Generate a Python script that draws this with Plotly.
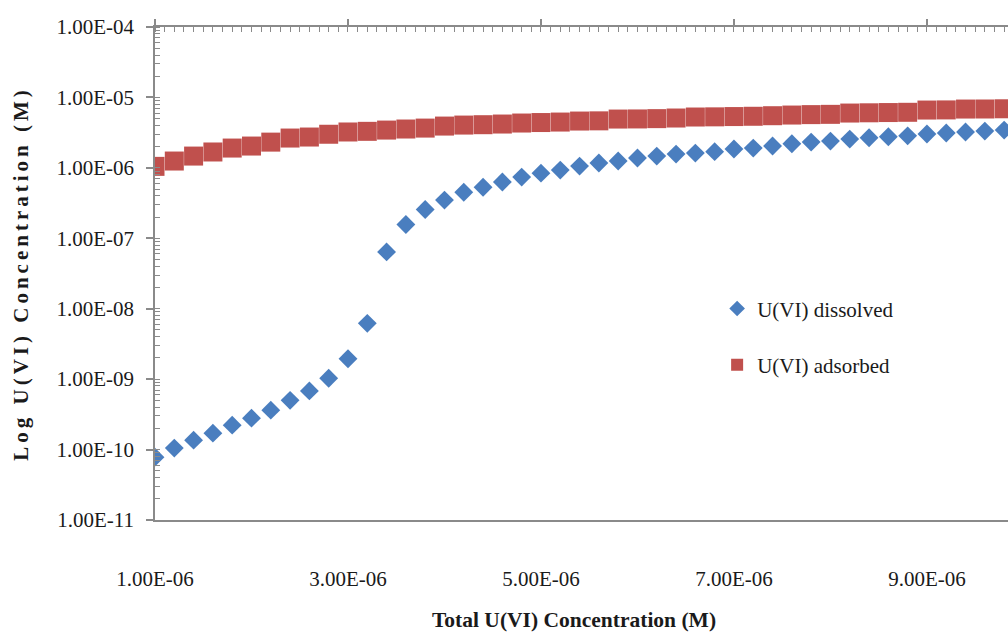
import plotly.graph_objects as go

# Total U(VI) concentration (M), 0.2 µM steps
total_u = [round(1.0e-6 + 0.2e-6 * i, 8) for i in range(45)]

# Dissolved U(VI) (M)
dissolved = [
    7.8e-11, 1.05e-10, 1.36e-10, 1.71e-10, 2.22e-10, 2.79e-10, 3.63e-10, 5.0e-10,
    6.8e-10, 1.03e-9, 1.95e-9, 6.2e-9, 6.4e-8, 1.57e-7, 2.56e-7, 3.49e-7,
    4.5e-7, 5.3e-7, 6.3e-7, 7.4e-7, 8.4e-7, 9.3e-7, 1.06e-6, 1.17e-6,
    1.25e-6, 1.38e-6, 1.47e-6, 1.57e-6, 1.62e-6, 1.70e-6, 1.85e-6, 1.91e-6,
    2.04e-6, 2.20e-6, 2.32e-6, 2.40e-6, 2.56e-6, 2.68e-6, 2.76e-6, 2.85e-6,
    3.02e-6, 3.12e-6, 3.23e-6, 3.33e-6, 3.44e-6,
]

# Adsorbed U(VI) (M)
adsorbed = [
    1.05e-6, 1.25e-6, 1.47e-6, 1.68e-6, 1.91e-6, 2.04e-6, 2.32e-6, 2.65e-6,
    2.74e-6, 3.0e-6, 3.23e-6, 3.3e-6, 3.44e-6, 3.56e-6, 3.67e-6, 3.92e-6,
    4.05e-6, 4.1e-6, 4.19e-6, 4.33e-6, 4.4e-6, 4.47e-6, 4.62e-6, 4.65e-6,
    4.93e-6, 4.95e-6, 5.0e-6, 5.1e-6, 5.27e-6, 5.3e-6, 5.35e-6, 5.4e-6,
    5.5e-6, 5.62e-6, 5.7e-6, 5.75e-6, 6.0e-6, 6.05e-6, 6.1e-6, 6.15e-6,
    6.62e-6, 6.65e-6, 6.84e-6, 6.85e-6, 6.9e-6,
]

x_ticks = [1e-6, 3e-6, 5e-6, 7e-6, 9e-6]
x_tick_text = ["1.00E-06", "3.00E-06", "5.00E-06", "7.00E-06", "9.00E-06"]
y_ticks = [1e-11, 1e-10, 1e-9, 1e-8, 1e-7, 1e-6, 1e-5, 1e-4]
y_tick_text = ["1.00E-11", "1.00E-10", "1.00E-09", "1.00E-08",
               "1.00E-07", "1.00E-06", "1.00E-05", "1.00E-04"]

SERIF = "Liberation Serif"
AXIS_GREY = "#8a8a8a"
TEXT = "#1a1a1a"
X_RANGE = [1e-6, 9.84e-6]

fig = go.Figure()
# dissolved on the bottom x axis, adsorbed on the overlaid top x axis
fig.add_trace(go.Scatter(
    x=total_u, y=dissolved, mode="markers", name="U(VI) dissolved",
    legendgroup="dis", xaxis="x", yaxis="y",
    marker=dict(symbol="diamond", size=14.5, color="#4a7ebf", line=dict(width=0)),
))
fig.add_trace(go.Scatter(
    x=total_u, y=adsorbed, mode="markers", name="U(VI) adsorbed",
    legendgroup="ads", xaxis="x2", yaxis="y",
    marker=dict(symbol="square", size=19, color="#c0504d", line=dict(width=0)),
))

fig.update_layout(
    width=1008, height=634,
    margin=dict(l=155, r=0, t=27, b=114),
    paper_bgcolor="white", plot_bgcolor="white",
    font=dict(family=SERIF, color=TEXT),
    showlegend=True,
    legend=dict(
        x=0.659, y=0.47, xanchor="left", yanchor="top",
        font=dict(family=SERIF, size=21, color=TEXT),
        bgcolor="rgba(0,0,0,0)", itemsizing="constant",
        tracegroupgap=26, traceorder="grouped",
    ),
    xaxis=dict(
        range=X_RANGE, showline=True, linecolor=AXIS_GREY, linewidth=1.5,
        ticks="", showgrid=False, zeroline=False,
        tickmode="array", tickvals=x_ticks, ticktext=x_tick_text,
        tickfont=dict(family=SERIF, size=21, color=TEXT),
        ticklabelstandoff=39,
    ),
    xaxis2=dict(
        overlaying="x", matches="x", side="top", showline=True,
        linecolor=AXIS_GREY, linewidth=1.5, showgrid=False, zeroline=False,
        showticklabels=False, tickmode="array", tickvals=x_ticks,
        ticks="outside", ticklen=6, tickcolor=AXIS_GREY, tickwidth=1.5,
        minor=dict(ticks="inside", ticklen=5, tick0=1e-6, dtick=1e-7,
                   tickcolor=AXIS_GREY, tickwidth=1, showgrid=False),
    ),
    yaxis=dict(
        type="log", range=[-11, -4], showline=True, linecolor=AXIS_GREY,
        linewidth=1.5, showgrid=False, zeroline=False,
        tickmode="array", tickvals=y_ticks, ticktext=y_tick_text,
        ticks="outside", ticklen=7, tickcolor=AXIS_GREY, tickwidth=1.5,
        tickfont=dict(family=SERIF, size=21, color=TEXT),
        ticklabelstandoff=8,
        minor=dict(ticks="inside", ticklen=5, dtick="D1",
                   tickcolor=AXIS_GREY, tickwidth=1, showgrid=False),
    ),
)

fig.add_annotation(
    text="<b>Total U(VI) Concentration (M)</b>",
    xref="paper", yref="paper", x=0.491, y=-0.203,
    xanchor="center", yanchor="middle", showarrow=False,
    font=dict(family=SERIF, size=21.5, color=TEXT),
)
fig.add_annotation(
    text='<span style="letter-spacing:4px"><b>Log U(VI) Concentration (M)</b></span>',
    xref="paper", yref="paper", x=-0.158, y=0.5,
    xanchor="center", yanchor="middle", showarrow=False, textangle=-90,
    font=dict(family=SERIF, size=21, color=TEXT),
)

fig.write_html("out.html")
